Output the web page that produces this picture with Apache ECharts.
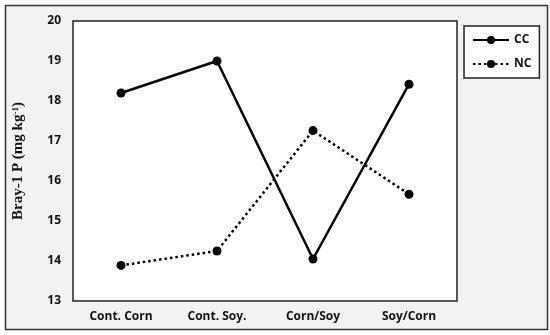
<!DOCTYPE html>
<html>
<head>
<meta charset="utf-8">
<script src="https://cdn.jsdelivr.net/npm/echarts@6/dist/echarts.min.js"></script>
<style>
  html, body { margin: 0; padding: 0; background: #ffffff; }
  #chart { width: 550px; height: 335px; }
</style>
</head>
<body>
<div id="chart"></div>
<script>
const categories = ['Cont. Corn', 'Cont. Soy.', 'Corn/Soy', 'Soy/Corn']
const ccValues = [18.2, 19.0, 14.05, 18.42]
const ncValues = [13.89, 14.25, 17.26, 15.67]
const yTicks = { min: 13, max: 20, interval: 1 }

const chart = echarts.init(document.getElementById('chart'))
chart.setOption({
  animation: false,
  backgroundColor: '#ffffff',
  graphic: [
    {
      type: 'rect',
      z: -10,
      shape: { x: 5.5, y: 5.5, width: 542, height: 324 },
      style: { fill: '#f2f2f2', stroke: '#333333', lineWidth: 1.5 }
    }
  ],
  grid: {
    show: true,
    left: 73, top: 21, width: 384, height: 280,
    backgroundColor: '#ffffff',
    borderColor: '#222222',
    borderWidth: 1.5
  },
  legend: {
    orient: 'vertical',
    left: 464, top: 26,
    width: 73, height: 51,
    padding: [8, 8, 8, 8],
    itemGap: 12,
    itemWidth: 36,
    itemHeight: 10,
    backgroundColor: '#ffffff',
    borderColor: '#222222',
    borderWidth: 1.5,
    textStyle: { fontFamily: 'Open Sans', fontWeight: 'bold', fontSize: 12, color: '#111' },
    data: ['CC', 'NC']
  },
  xAxis: {
    type: 'category',
    data: categories,
    boundaryGap: true,
    axisLine: { show: false },
    axisTick: { show: false },
    axisLabel: {
      margin: 10,
      fontFamily: 'Open Sans', fontWeight: 'bold', fontSize: 12, color: '#111'
    }
  },
  yAxis: {
    type: 'value',
    min: yTicks.min, max: yTicks.max, interval: yTicks.interval,
    name: '{t|Bray-1 P (mg kg}{s|-1}{t|)}',
    nameLocation: 'middle',
    nameGap: 47,
    nameTextStyle: {
      rich: {
        t: { fontFamily: 'Liberation Serif', fontWeight: 'bold', fontSize: 15, color: '#111' },
        s: { fontFamily: 'Liberation Serif', fontWeight: 'bold', fontSize: 9, color: '#111', verticalAlign: 'top', padding: [0, 0, 6, 0] }
      }
    },
    splitLine: { show: false },
    axisLine: { show: false },
    axisTick: { show: false },
    axisLabel: {
      margin: 12,
      fontFamily: 'Open Sans', fontWeight: 'bold', fontSize: 12, color: '#111'
    }
  },
  series: [
    {
      name: 'CC',
      type: 'line',
      data: ccValues,
      symbol: 'circle',
      symbolSize: 9,
      itemStyle: { color: '#000' },
      lineStyle: { color: '#000', width: 2.5, type: 'solid' }
    },
    {
      name: 'NC',
      type: 'line',
      data: ncValues,
      symbol: 'circle',
      symbolSize: 9,
      itemStyle: { color: '#000' },
      lineStyle: { color: '#000', width: 2.5, type: [2.5, 3] }
    }
  ]
})
</script>
</body>
</html>
